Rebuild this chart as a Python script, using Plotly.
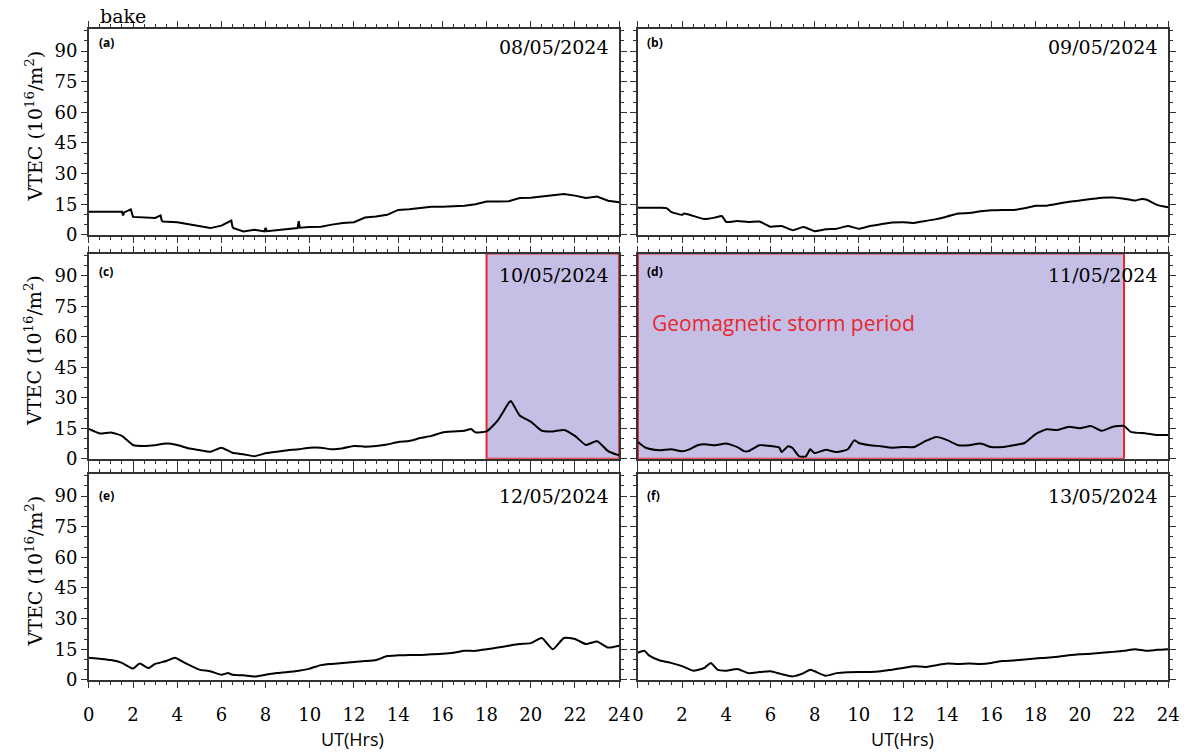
import plotly.graph_objects as go
from plotly.subplots import make_subplots

# ---------------- data ----------------
hours_a = [0, 1, 1.5, 1.55, 1.6, 1.9, 1.95, 2, 3, 3.25, 3.3, 3.35, 4, 4.5, 5, 5.5, 6, 6.45, 6.5, 6.55, 7, 7.5, 7.95, 8, 8.05, 8.5, 9, 9.45, 9.5, 9.55,
           10, 10.5, 11, 11.5, 12, 12.5, 13, 13.5, 14, 14.5, 15, 15.5, 16, 16.5, 17, 17.5, 18, 18.5, 19, 19.5,
           20, 20.5, 21, 21.5, 22, 22.5, 23, 23.5, 24]
vtec_a = [11.3, 11.2, 11.3, 9.5, 11.0, 12.5, 10.5, 8.8, 8.3, 9.5, 7.0, 6.5, 6.2, 5.3, 4.5, 3.3, 4.5, 7.0, 4.0, 3.3, 1.7, 2.5, 1.7, 3.5, 1.8, 2.2, 3.0, 3.3, 6.7, 3.5,
          3.8, 4.0, 5.0, 5.8, 6.2, 8.5, 9.0, 9.8, 12.2, 12.5, 13.2, 13.8, 13.8, 14.0, 14.3, 15.0, 16.3, 16.3, 16.5, 18.0,
          18.2, 18.8, 19.3, 20.0, 19.2, 18.0, 18.8, 16.7, 16.0]

hours_b = [0, 1, 1.3, 1.5, 2, 2.1, 2.5, 3, 3.5, 3.8, 4, 4.5, 5, 5.5, 6, 6.5, 7, 7.5, 8, 8.5, 9, 9.5, 10, 10.5, 11, 11.5,
           12, 12.5, 13, 13.5, 14, 14.5, 15, 15.5, 16, 16.5, 17, 17.5, 18, 18.5, 19, 19.5, 20, 20.5, 21, 21.5,
           22, 22.5, 22.8, 23, 23.5, 24]
vtec_b = [13.3, 13.3, 13.1, 11.3, 9.8, 10.5, 9.3, 7.7, 8.5, 9.2, 6.3, 6.8, 6.3, 6.5, 4.0, 4.3, 2.3, 3.8, 1.8, 2.7, 3.0, 4.3, 3.0, 4.3, 5.2, 6.0,
          6.2, 5.8, 6.8, 7.7, 9.0, 10.5, 10.7, 11.5, 12.0, 12.2, 12.2, 13.0, 14.2, 14.3, 15.2, 16.2, 16.8, 17.5, 18.2, 18.3,
          17.7, 16.8, 17.6, 17.3, 14.7, 13.5]

hours_c = [0, 0.5, 1, 1.5, 2, 2.5, 3, 3.5, 4, 4.5, 5, 5.5, 6, 6.5, 7, 7.5, 8, 8.5, 9, 9.5, 10, 10.5, 11, 11.5,
           12, 12.5, 13, 13.5, 14, 14.5, 15, 15.5, 16, 16.5, 17, 17.3, 17.5, 18, 18.5, 19, 19.1, 19.5, 20, 20.5, 21, 21.5,
           22, 22.5, 23, 23.5, 24]
vtec_c = [14.7, 12.5, 13.0, 11.3, 6.8, 6.3, 6.7, 7.5, 6.8, 5.2, 4.3, 3.5, 5.5, 3.0, 2.2, 1.3, 2.7, 3.5, 4.2, 4.7, 5.5, 5.5, 4.7, 5.2,
          6.3, 6.0, 6.3, 7.0, 8.3, 8.8, 10.2, 11.3, 13.0, 13.5, 13.8, 14.7, 13.0, 13.5, 18.8, 27.5, 28.5, 21.3, 18.3, 13.8, 13.5, 14.2,
          11.3, 6.8, 8.8, 3.8, 1.7]

hours_d = [0, 0.3, 0.5, 1, 1.5, 2, 2.3, 2.7, 3, 3.5, 4, 4.5, 4.8, 5, 5.5, 6, 6.4, 6.5, 6.8, 7, 7.3, 7.6, 7.8, 8, 8.5, 9, 9.5, 9.8,
           10, 10.5, 11, 11.5, 12, 12.5, 13, 13.5, 14, 14.5, 15, 15.5, 16, 16.5, 17, 17.5, 18, 18.5, 19, 19.5,
           20, 20.5, 21, 21.5, 22, 22.3, 23, 23.5, 24]
vtec_d = [8.3, 5.8, 5.0, 4.2, 4.7, 3.7, 4.5, 6.7, 7.2, 6.7, 7.5, 5.8, 3.8, 3.8, 6.7, 6.3, 5.5, 3.3, 6.2, 5.3, 1.2, 1.2, 4.7, 2.8, 4.5, 3.3, 4.7, 9.2,
          7.8, 6.7, 6.2, 5.5, 5.8, 5.8, 8.7, 10.8, 9.2, 6.7, 6.7, 7.5, 5.8, 5.8, 6.7, 7.8, 12.2, 14.5, 14.2, 15.8,
          15.0, 16.2, 13.8, 15.8, 16.2, 13.3, 12.5, 11.7, 11.7]

hours_e = [0, 0.5, 1, 1.5, 2, 2.3, 2.7, 3, 3.5, 3.9, 4.2, 4.5, 5, 5.5, 6, 6.3, 6.5, 7, 7.5, 8, 8.5, 9, 9.5,
           10, 10.5, 11, 11.5, 12, 12.5, 13, 13.5, 14, 14.5, 15, 15.5, 16, 16.5, 17, 17.5, 18, 18.5, 19, 19.5,
           20, 20.5, 21, 21.5, 22, 22.5, 23, 23.5, 24]
vtec_e = [10.8, 10.3, 9.7, 8.3, 5.5, 8.0, 5.8, 7.8, 9.2, 10.8, 9.2, 7.5, 5.0, 4.2, 2.5, 3.3, 2.5, 2.2, 1.7, 2.5, 3.3, 3.8, 4.5,
          5.5, 7.2, 7.8, 8.3, 8.8, 9.2, 9.7, 11.7, 12.0, 12.2, 12.2, 12.5, 12.8, 13.3, 14.2, 14.2, 15.0, 15.8, 16.7, 17.5,
          18.0, 20.5, 15.0, 20.5, 20.0, 17.5, 18.8, 15.8, 16.7]

hours_f = [0, 0.3, 0.5, 1, 1.5, 2, 2.5, 3, 3.3, 3.6, 4, 4.5, 5, 5.5, 6, 6.5, 7, 7.5, 7.8, 8, 8.5, 9, 9.5,
           10, 10.5, 11, 11.5, 12, 12.5, 13, 13.5, 14, 14.5, 15, 15.5, 16, 16.5, 17, 17.5, 18, 18.5, 19, 19.5,
           20, 20.5, 21, 21.5, 22, 22.5, 23, 23.5, 24]
vtec_f = [13.3, 14.2, 12.0, 9.5, 8.3, 6.7, 4.5, 5.8, 8.3, 5.0, 4.5, 5.3, 3.3, 3.8, 4.2, 2.8, 1.7, 3.3, 5.0, 4.2, 2.0, 3.3, 3.7,
          3.8, 3.8, 4.2, 5.0, 5.8, 6.7, 6.3, 7.2, 8.0, 7.8, 8.0, 7.8, 8.3, 9.2, 9.5, 10.0, 10.5, 10.8, 11.3, 12.0,
          12.5, 12.8, 13.3, 13.7, 14.2, 15.0, 14.2, 14.7, 15.0]

panel_labels = ["(a)", "(b)", "(c)", "(d)", "(e)", "(f)"]
dates = ["08/05/2024", "09/05/2024", "10/05/2024", "11/05/2024", "12/05/2024", "13/05/2024"]
storm_spans = {2: (18, 24), 3: (0, 22)}   # panel index (c, d) -> (start hour, end hour)
y_ticks = [0, 15, 30, 45, 60, 75, 90]
x_ticks = list(range(0, 25, 2))
station = "bake"
storm_text = "Geomagnetic storm period"
x_title = "UT(Hrs)"

series = [(hours_a, vtec_a), (hours_b, vtec_b), (hours_c, vtec_c),
          (hours_d, vtec_d), (hours_e, vtec_e), (hours_f, vtec_f)]

# ---------------- layout geometry ----------------
W, H = 1195, 753
col_px = [(84, 622), (641, 1179)]
row_px = [(29, 238), (257, 465), (480, 689)]

def px_x(p):
    return p / W

def px_y(p):
    return 1 - p / H

fig = make_subplots(rows=3, cols=2)

SERIF = "DejaVu Serif"
SANS = "Open Sans"
LAV = "#c6bfe5"
RED = "#e8262d"

for i, (hx, vy) in enumerate(series):
    r, c = i // 2 + 1, i % 2 + 1
    shape = "linear" if i == 0 else "spline"
    fig.add_trace(go.Scatter(x=hx, y=vy, mode="lines",
                             line=dict(color="black", width=2, shape=shape, smoothing=0.5),
                             showlegend=False),
                  row=r, col=c)

annotations = []
shapes = []
for i in range(6):
    r, c = i // 2, i % 2
    n = i + 1
    xa = "xaxis" if n == 1 else f"xaxis{n}"
    ya = "yaxis" if n == 1 else f"yaxis{n}"
    x0, x1 = col_px[c]
    y0, y1 = row_px[r]
    fig.layout[xa].update(
        domain=[px_x(x0), px_x(x1)], range=[0, 24],
        tickvals=x_ticks, showticklabels=(r == 2),
        ticks="outside", ticklen=6, tickwidth=1.2, tickcolor="#333",
        minor=dict(dtick=0.5, ticks="outside", ticklen=3, tickcolor="#333"),
        showline=True, linecolor="#333", linewidth=1.5, mirror="ticks",
        showgrid=False, zeroline=False,
        tickfont=dict(family=SERIF, size=18, color="black"),
        ticklabelstandoff=12,
    )
    fig.layout[ya].update(
        domain=[px_y(y1), px_y(y0)], range=[0, 101],
        tickvals=y_ticks, showticklabels=(c == 0),
        ticks="outside", ticklen=6, tickwidth=1.2, tickcolor="#333",
        minor=dict(dtick=5, ticks="outside", ticklen=3, tickcolor="#333"),
        showline=True, linecolor="#333", linewidth=1.5, mirror="ticks",
        showgrid=False, zeroline=False,
        tickfont=dict(family=SERIF, size=18, color="black"),
    )
    xref = "x" if n == 1 else f"x{n}"
    yref = "y" if n == 1 else f"y{n}"
    if i in storm_spans:
        s0, s1 = storm_spans[i]
        shapes.append(dict(type="rect", xref=xref, yref=yref, x0=s0, x1=s1, y0=0, y1=101,
                           fillcolor=LAV, line=dict(color=RED, width=2), layer="below"))
    # panel label
    lab_y = [43, 275, 502][r]
    lab_x = [92, 648][c]
    annotations.append(dict(text=f"<b>{panel_labels[i]}</b>", xref="paper", yref="paper",
                            x=px_x(lab_x), y=px_y(lab_y), xanchor="left", yanchor="middle",
                            showarrow=False, font=dict(family=SANS, size=12, color="black")))
    date_y = [48, 279, 503][r]
    annotations.append(dict(text=dates[i], xref="paper", yref="paper",
                            x=px_x(x1 - 8), y=px_y(date_y), xanchor="right", yanchor="middle",
                            showarrow=False, font=dict(family=SERIF, size=19, color="black")))
    if c == 0:
        annotations.append(dict(text="VTEC (10<sup>16</sup>/m<sup>2</sup>)", xref="paper", yref="paper",
                                x=px_x(28), y=px_y((y0 + y1) / 2 - 6), xanchor="center", yanchor="middle",
                                textangle=-90, showarrow=False,
                                font=dict(family=SERIF, size=19, color="black")))
    if r == 2:
        annotations.append(dict(text=x_title, xref="paper", yref="paper",
                                x=px_x((x0 + x1) / 2 - 1), y=px_y(740), xanchor="center", yanchor="middle",
                                yshift=-9, showarrow=False,
                                font=dict(family=SANS, size=18, color="black")))

annotations.append(dict(text=station, xref="paper", yref="paper", x=px_x(93), y=px_y(16),
                        xanchor="left", yanchor="middle", showarrow=False,
                        font=dict(family=SERIF, size=19, color="black")))
annotations.append(dict(text=storm_text, xref="paper", yref="paper", x=px_x(653), y=px_y(327),
                        xanchor="left", yanchor="middle", showarrow=False,
                        font=dict(family=SANS, size=21, color=RED)))

fig.update_layout(width=W, height=H, margin=dict(l=0, r=0, t=0, b=0),
                  paper_bgcolor="white", plot_bgcolor="white",
                  annotations=annotations, shapes=shapes, showlegend=False)

fig.write_html("out.html")
